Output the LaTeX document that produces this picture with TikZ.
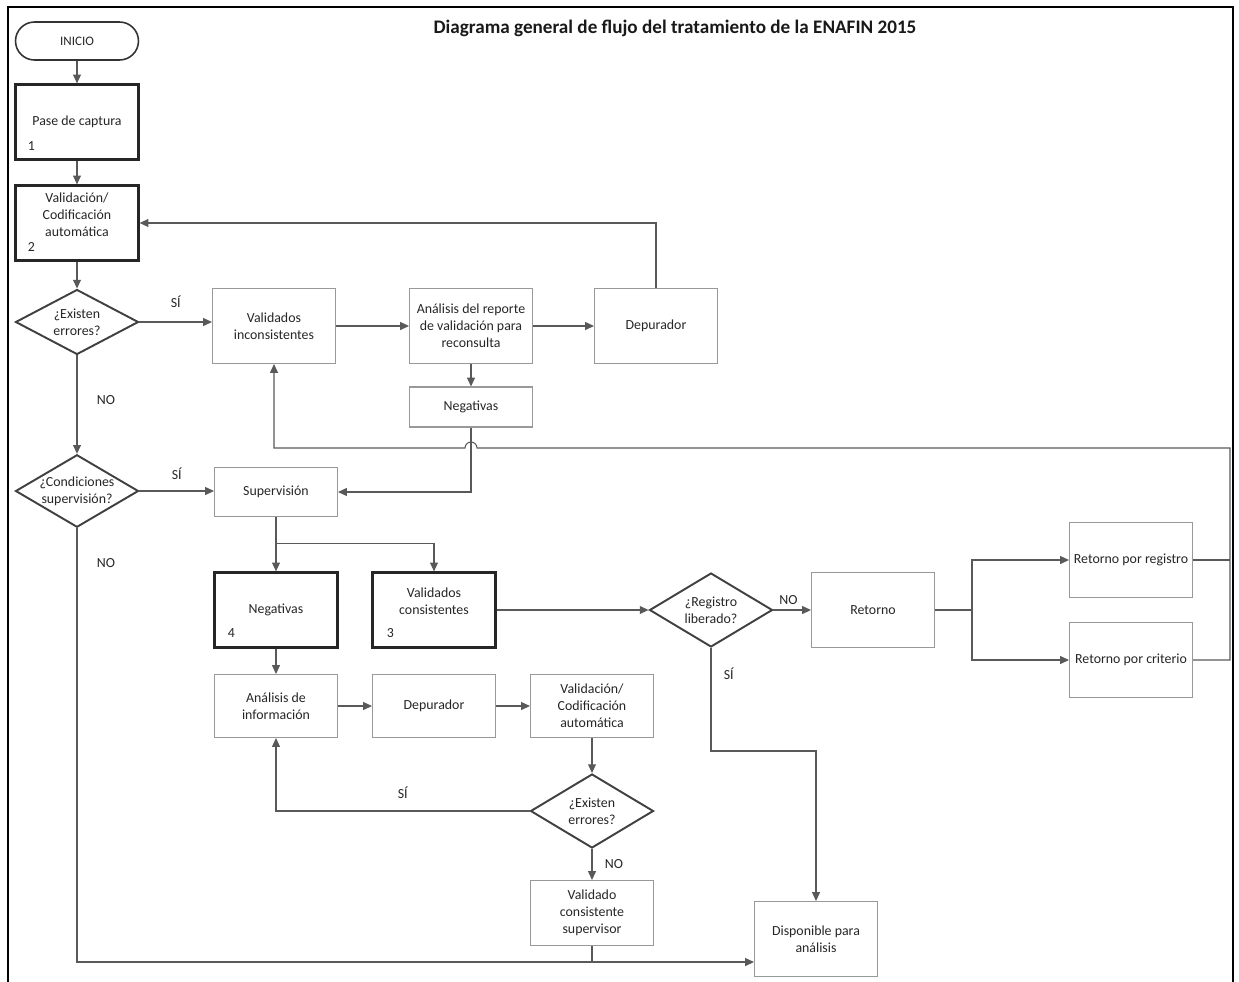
\documentclass[tikz,border=0pt]{standalone}
\usepackage{fontspec}
\setmainfont{Carlito}
\usetikzlibrary{shapes.geometric,arrows.meta,positioning}

\tikzset{
  texto/.style={font=\fontsize{7.9}{9.6}\selectfont, text=black!85},
  caja/.style={texto, draw=black!40, line width=0.6pt, minimum width=2.46cm, minimum height=1.5cm, align=center, inner sep=1pt},
  cajagruesa/.style={caja, draw=black!85, line width=1.3pt},
  inicio/.style={caja, rounded corners=0.38cm, draw=black!80, line width=0.9pt, minimum height=0.76cm, font=\fontsize{7.4}{8}\selectfont},
  decision/.style={texto, diamond, aspect=2, draw=black!75, line width=1.1pt, minimum width=2.46cm, minimum height=1.45cm, inner sep=-2pt, align=center},
  flecha/.style={draw=black!65, line width=0.6pt, -{Triangle[length=5pt,width=4.5pt]}},
  linea/.style={draw=black!65, line width=0.6pt},
  etiq/.style={texto, inner sep=1pt},
  numero/.style={texto, inner sep=0pt},
  titulo/.style={font=\fontsize{10.9}{13}\selectfont\bfseries, text=black!90}
}

\begin{document}
\begin{tikzpicture}[x=0.02cm,y=-0.02cm]
\useasboundingbox (0,0) rectangle (1239,981);
\draw[line width=1.5pt] (8,990) -- (8,7) -- (1233,7) -- (1233,990);
\node[titulo] (titulo) at (675,28) {Diagrama general de flujo del tratamiento de la ENAFIN 2015};

\node[inicio] (inicio) at (77,41) {INICIO};
\node[cajagruesa] (pase) at (77,122) {Pase de captura};
\node[numero] at ([xshift=0.34cm,yshift=0.3cm]pase.south west) {1};
\node[cajagruesa] (valid) at (77,223) {Validación/\\Codificación\\automática\\\mbox{}};
\node[numero] at ([xshift=0.34cm,yshift=0.3cm]valid.south west) {2};
\node[decision, minimum height=1.3cm] (errores) at (77,322) {¿Existen\\errores?};
\node[caja] (inconsist) at (274,326) {Validados\\inconsistentes};
\node[caja] (reporte) at (471,326) {Análisis del reporte\\de validación para\\reconsulta};
\node[caja] (depura) at (656,326) {Depurador};
\node[caja, minimum height=0.8cm] (negat) at (471,407) {Negativas};

\node[decision, inner sep=-3.5pt] (condic) at (77,491) {¿Condiciones\\supervisión?};
\node[caja, minimum height=0.98cm] (superv) at (276,492) {Supervisión};
\node[cajagruesa] (negat4) at (276,610) {Negativas};
\node[numero] at ([xshift=0.36cm,yshift=0.32cm]negat4.south west) {4};
\node[cajagruesa] (consist) at (434,610) {Validados\\consistentes\\\mbox{}};
\node[numero] at ([xshift=0.38cm,yshift=0.32cm]consist.south west) {3};
\node[decision, minimum height=1.48cm] (registro) at (711,610) {¿Registro\\liberado?};
\node[caja] (retorno) at (873,610) {Retorno};
\node[caja] (retreg) at (1131,560) {Retorno por registro};
\node[caja] (retcrit) at (1131,660) {Retorno por criterio};

\node[caja, minimum height=1.26cm] (analinfo) at (276,706) {Análisis de\\información};
\node[caja, minimum height=1.26cm] (depura2) at (434,706) {Depurador};
\node[caja, minimum height=1.26cm] (valid2) at (592,706) {Validación/\\Codificación\\automática};
\node[decision, minimum height=1.48cm] (errores2) at (592,811) {¿Existen\\errores?};
\node[caja, minimum height=1.3cm] (validsup) at (592,913) {Validado\\consistente\\supervisor};
\node[caja] (dispon) at (816,939) {Disponible para\\análisis};

\coordinate (fondo) at (77,962);
\coordinate (ramaret) at (972,610);
\coordinate (derecha) at (1230,448);

\draw[flecha] (inicio) -- (pase);
\draw[flecha] (pase) -- (valid);
\draw[flecha] (valid) -- (errores);
\draw[flecha] (errores.east) -- node[etiq, above=7pt] {SÍ} (errores.east -| inconsist.west);
\draw[flecha] (inconsist) -- (reporte);
\draw[flecha] (reporte) -- (depura);
\draw[flecha] (depura.north) |- (valid.east);
\draw[flecha] (reporte) -- (negat);
\draw[flecha] (negat.south) |- (superv.east);
\draw[flecha] (errores) -- node[etiq, right=10pt, pos=0.45] {NO} (condic);
\draw[flecha] (condic.east) -- node[etiq, above=5pt] {SÍ} (condic.east -| superv.west);
\draw[flecha] (condic.south) -- node[etiq, right=10pt, pos=0.08] {NO} (fondo) -- (fondo -| dispon.west);
\draw[flecha] (superv) -- (negat4);
\draw[flecha] (superv.south) ++(0,26) -| (consist.north);
\draw[flecha] (negat4) -- (analinfo);
\draw[flecha] (analinfo) -- (depura2);
\draw[flecha] (depura2) -- (valid2);
\draw[flecha] (valid2) -- (errores2);
\draw[flecha] (errores2.west) -| node[etiq, above=6pt, pos=0.25] {SÍ} (analinfo.south);
\draw[flecha] (errores2) -- node[etiq, right=6pt] {NO} (validsup);
\draw[linea] (validsup.south) -- (validsup.south |- fondo);
\draw[flecha] (consist) -- (registro);
\draw[flecha] (registro) -- node[etiq, above=2pt, pos=0.4] {NO} (retorno);
\draw[flecha] (registro.south) -- node[etiq, right=6pt, pos=0.25] {SÍ} ++(0,103) -| (dispon.north);
\draw[linea] (retorno) -- (ramaret);
\draw[flecha] (ramaret) |- (retreg);
\draw[flecha] (ramaret) |- (retcrit);
\draw[linea] (retreg.east) -- (retreg.east -| derecha);
\draw[flecha] (retcrit.east) -| (derecha) -- ([xshift=0.12cm]negat.south |- derecha)
  arc[start angle=0, end angle=180, radius=0.12cm] -- (inconsist.south |- derecha) -- (inconsist.south);
\end{tikzpicture}
\end{document}
